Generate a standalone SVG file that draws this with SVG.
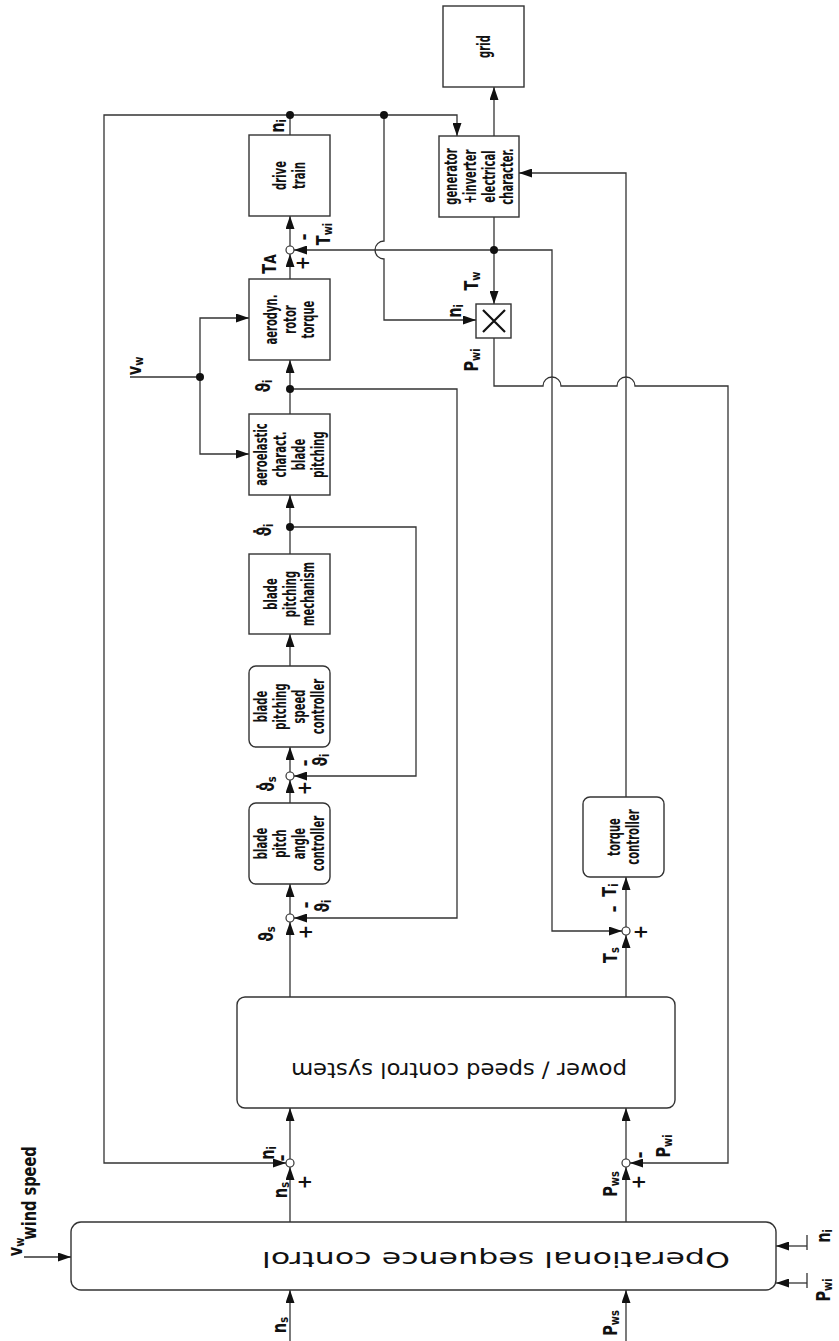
<svg xmlns="http://www.w3.org/2000/svg" width="839" height="1341" viewBox="0 0 839 1341">
<defs>
<style>
.bx{fill:#fff;stroke:#333;stroke-width:1.4}
.ln{fill:none;stroke:#333;stroke-width:1.3}
.ar{marker-end:url(#ah)}
.dot{fill:#111}
.sj{fill:#fff;stroke:#333;stroke-width:1.2}
.bl{font-family:"DejaVu Sans Condensed","DejaVu Sans",sans-serif;font-weight:bold;font-size:18px;fill:#111;text-anchor:middle}
.lb{font-family:"DejaVu Sans Condensed","DejaVu Sans",sans-serif;font-weight:bold;font-size:19px;fill:#111;text-anchor:middle;dominant-baseline:central}
.s{font-size:13px}
.big{font-family:"DejaVu Sans Condensed","DejaVu Sans",sans-serif;font-size:22px;fill:#111;text-anchor:middle}
</style>
<marker id="ah" viewBox="0 0 13 9" refX="13" refY="4.5" markerWidth="13" markerHeight="9" markerUnits="userSpaceOnUse" orient="auto"><path d="M0,0 L13,4.5 L0,9 z" fill="#111"/></marker>
</defs>
<rect width="839" height="1341" fill="#fff"/>

<g id="connectors">
<path class="ln ar" d="M290,135 V115 H457 V136"/>
<path class="ln ar" d="M290,115 H104 V1163 H286"/>
<path class="ln ar" d="M384,115 V241 A9,9 0 0 0 384,259 V320 H476"/>
<path class="ln ar" d="M494,136 V87"/>
<path class="ln ar" d="M494,217 V304"/>
<path class="ln ar" d="M494,250 H294"/>
<path class="ln ar" d="M494,250 H552 V931 H622"/>
<path class="ln ar" d="M494,338 V386 H543 A9,9 0 0 1 561,386 H617 A9,9 0 0 1 635,386 H728 V1163 H630"/>
<path class="ln ar" d="M290,279 V254"/>
<path class="ln ar" d="M290,246 V216"/>
<path class="ln ar" d="M290,414 V360"/>
<path class="ln ar" d="M290,389 H457 V918 H294"/>
<path class="ln ar" d="M290,554 V495"/>
<path class="ln ar" d="M290,527 H416 V776 H294"/>
<path class="ln ar" d="M290,666 V634"/>
<path class="ln ar" d="M290,772 V747"/>
<path class="ln ar" d="M290,803 V780"/>
<path class="ln ar" d="M290,914 V884"/>
<path class="ln ar" d="M290,997 V922"/>
<path class="ln ar" d="M626,927 V877"/>
<path class="ln ar" d="M626,797 V173 H519"/>
<path class="ln ar" d="M626,997 V935"/>
<path class="ln" d="M130,377 H200"/>
<path class="ln ar" d="M200,377 V318 H249"/>
<path class="ln ar" d="M200,377 V454 H249"/>
<path class="ln ar" d="M290,1159 V1108"/>
<path class="ln ar" d="M626,1159 V1108"/>
<path class="ln ar" d="M290,1222 V1167"/>
<path class="ln ar" d="M626,1222 V1167"/>
<path class="ln ar" d="M290,1341 V1290"/>
<path class="ln ar" d="M626,1341 V1290"/>
<path class="ln ar" d="M24,1257 H71"/>
<path class="ln ar" d="M807,1246 H776"/>
<path class="ln ar" d="M807,1283 H776"/>
<path class="ln" d="M807,1235 V1250 M807,1273 V1288"/>
<circle class="dot" cx="290" cy="115" r="4"/>
<circle class="dot" cx="384" cy="115" r="4"/>
<circle class="dot" cx="494" cy="250" r="4"/>
<circle class="dot" cx="290" cy="389" r="4"/>
<circle class="dot" cx="290" cy="527" r="4"/>
<circle class="dot" cx="200" cy="377" r="4"/>
<circle class="sj" cx="290" cy="250" r="4"/>
<circle class="sj" cx="290" cy="776" r="4"/>
<circle class="sj" cx="290" cy="918" r="4"/>
<circle class="sj" cx="626" cy="931" r="4"/>
<circle class="sj" cx="290" cy="1163" r="4"/>
<circle class="sj" cx="626" cy="1163" r="4"/>
</g>

<g id="grid"><rect class="bx" x="443" y="6" width="81" height="81"/>
<text class="bl" transform="translate(483.5,46.5) rotate(-90) scale(0.62,1)"><tspan x="0" y="6">grid</tspan></text></g>

<g id="generator"><rect class="bx" x="439" y="136" width="80" height="81"/>
<text class="bl" transform="translate(479,176.5) rotate(-90) scale(0.62,1)"><tspan x="0" y="-22.5">generator</tspan><tspan x="0" y="-3.5">+inverter</tspan><tspan x="0" y="15.5">electrical</tspan><tspan x="0" y="34.5">character.</tspan></text></g>

<g id="drive-train"><rect class="bx" x="249" y="135" width="81" height="81"/>
<text class="bl" transform="translate(289.5,175.5) rotate(-90) scale(0.62,1)"><tspan x="0" y="-3.5">drive</tspan><tspan x="0" y="15.5">train</tspan></text></g>

<g id="aerodyn"><rect class="bx" x="249" y="279" width="81" height="81"/>
<text class="bl" transform="translate(289.5,319.5) rotate(-90) scale(0.62,1)"><tspan x="0" y="-13">aerodyn.</tspan><tspan x="0" y="6">rotor</tspan><tspan x="0" y="25">torque</tspan></text></g>

<g id="aeroelastic"><rect class="bx" x="249" y="414" width="81" height="81"/>
<text class="bl" transform="translate(289.5,454.5) rotate(-90) scale(0.62,1)"><tspan x="0" y="-22.5">aeroelastic</tspan><tspan x="0" y="-3.5">charact.</tspan><tspan x="0" y="15.5">blade</tspan><tspan x="0" y="34.5">pitching</tspan></text></g>

<g id="mechanism"><rect class="bx" x="249" y="554" width="81" height="80"/>
<text class="bl" transform="translate(289.5,594) rotate(-90) scale(0.62,1)"><tspan x="0" y="-13">blade</tspan><tspan x="0" y="6">pitching</tspan><tspan x="0" y="25">mechanism</tspan></text></g>

<g id="speed-controller"><rect class="bx" x="249" y="666" width="81" height="81" rx="7"/>
<text class="bl" transform="translate(289.5,706.5) rotate(-90) scale(0.62,1)"><tspan x="0" y="-22.5">blade</tspan><tspan x="0" y="-3.5">pitching</tspan><tspan x="0" y="15.5">speed</tspan><tspan x="0" y="34.5">controller</tspan></text></g>

<g id="angle-controller"><rect class="bx" x="249" y="803" width="81" height="81" rx="7"/>
<text class="bl" transform="translate(289.5,843.5) rotate(-90) scale(0.62,1)"><tspan x="0" y="-22.5">blade</tspan><tspan x="0" y="-3.5">pitch</tspan><tspan x="0" y="15.5">angle</tspan><tspan x="0" y="34.5">controller</tspan></text></g>

<g id="torque-controller"><rect class="bx" x="583" y="797" width="81" height="80" rx="7"/>
<text class="bl" transform="translate(623.5,837) rotate(-90) scale(0.62,1)"><tspan x="0" y="-3.5">torque</tspan><tspan x="0" y="15.5">controller</tspan></text></g>

<g id="multiplier"><rect class="bx" x="476" y="304" width="35" height="34"/>
<path d="M483,310 L505,332 M505,310 L483,332" stroke="#111" stroke-width="2.2" fill="none"/></g>

<g id="power-speed"><rect class="bx" x="237" y="997" width="438" height="111" rx="8"/>
<text class="big" transform="translate(459,1063) rotate(180)" textLength="336" lengthAdjust="spacingAndGlyphs">power / speed control system</text></g>

<g id="operational"><rect class="bx" x="71" y="1222" width="705" height="68" rx="10"/>
<text class="big" transform="translate(496,1252) rotate(180)" textLength="468" lengthAdjust="spacingAndGlyphs">Operational sequence control</text></g>

<g id="labels">
<text class="lb" transform="translate(278,126) rotate(-90) scale(0.85,1)">n<tspan class="s" dy="4">i</tspan></text>
<text class="lb" transform="translate(270,264) rotate(-90) scale(0.85,1)">T<tspan font-size="16">A</tspan></text>
<text class="lb" transform="translate(302,263) rotate(-90)">+</text>
<text class="lb" transform="translate(303,237) rotate(-90)">-</text>
<text class="lb" transform="translate(324,234) rotate(-90) scale(0.85,1)">T<tspan class="s" dy="4">wi</tspan></text>
<text class="lb" transform="translate(472,281) rotate(-90) scale(0.85,1)">T<tspan class="s" dy="4">w</tspan></text>
<text class="lb" transform="translate(455,311) rotate(-90) scale(0.85,1)">n<tspan class="s" dy="4">i</tspan></text>
<text class="lb" transform="translate(472,360) rotate(-90) scale(0.85,1)">P<tspan class="s" dy="4">wi</tspan></text>
<text class="lb" transform="translate(135,366) rotate(-90) scale(0.85,1)">v<tspan class="s" dy="4">w</tspan></text>
<text class="lb" transform="translate(264,386) rotate(-90) scale(0.85,1)">ϑ<tspan class="s" dy="4">i</tspan></text>
<text class="lb" transform="translate(265,530) rotate(-90) scale(0.85,1)">ϑ&#775;<tspan class="s" dy="4">i</tspan></text>
<text class="lb" transform="translate(268,784) rotate(-90) scale(0.85,1)">ϑ&#775;<tspan class="s" dy="4">s</tspan></text>
<text class="lb" transform="translate(304,788) rotate(-90)">+</text>
<text class="lb" transform="translate(304,763) rotate(-90)">-</text>
<text class="lb" transform="translate(321,760) rotate(-90) scale(0.85,1)">ϑ<tspan class="s" dy="4">i</tspan></text>
<text class="lb" transform="translate(267,934) rotate(-90) scale(0.85,1)">ϑ<tspan class="s" dy="4">s</tspan></text>
<text class="lb" transform="translate(305,932) rotate(-90)">+</text>
<text class="lb" transform="translate(305,905) rotate(-90)">-</text>
<text class="lb" transform="translate(323,906) rotate(-90) scale(0.85,1)">ϑ<tspan class="s" dy="4">i</tspan></text>
<text class="lb" transform="translate(610,890) rotate(-90) scale(0.85,1)">T<tspan class="s" dy="4">i</tspan></text>
<text class="lb" transform="translate(613,909) rotate(-90)">-</text>
<text class="lb" transform="translate(640,932) rotate(-90)">+</text>
<text class="lb" transform="translate(611,955) rotate(-90) scale(0.85,1)">T<tspan class="s" dy="4">s</tspan></text>
<text class="lb" transform="translate(268,1153) rotate(-90) scale(0.85,1)">n<tspan class="s" dy="4">i</tspan></text>
<text class="lb" transform="translate(281,1158) rotate(-90)">-</text>
<text class="lb" transform="translate(304,1182) rotate(-90)">+</text>
<text class="lb" transform="translate(281,1190) rotate(-90) scale(0.85,1)">n<tspan class="s" dy="4">s</tspan></text>
<text class="lb" transform="translate(639,1155) rotate(-90)">-</text>
<text class="lb" transform="translate(664,1146) rotate(-90) scale(0.85,1)">P<tspan class="s" dy="4">wi</tspan></text>
<text class="lb" transform="translate(638,1182) rotate(-90)">+</text>
<text class="lb" transform="translate(611,1184) rotate(-90) scale(0.85,1)">P<tspan class="s" dy="4">ws</tspan></text>
<text class="lb" transform="translate(280,1325) rotate(-90) scale(0.85,1)">n<tspan class="s" dy="4">s</tspan></text>
<text class="lb" transform="translate(611,1323) rotate(-90) scale(0.85,1)">P<tspan class="s" dy="4">ws</tspan></text>
<text class="lb" transform="translate(824,1236) rotate(-90) scale(0.85,1)">n<tspan class="s" dy="4">i</tspan></text>
<text class="lb" transform="translate(824,1290) rotate(-90) scale(0.85,1)">P<tspan class="s" dy="4">wi</tspan></text>
<text class="lb" transform="translate(16,1247) rotate(-90) scale(0.85,1)">v<tspan class="s" dy="4">w</tspan></text>
<text class="lb" transform="translate(30,1193) rotate(-90) scale(0.85,1)" font-size="16">wind speed</text>
</g>
</svg>
